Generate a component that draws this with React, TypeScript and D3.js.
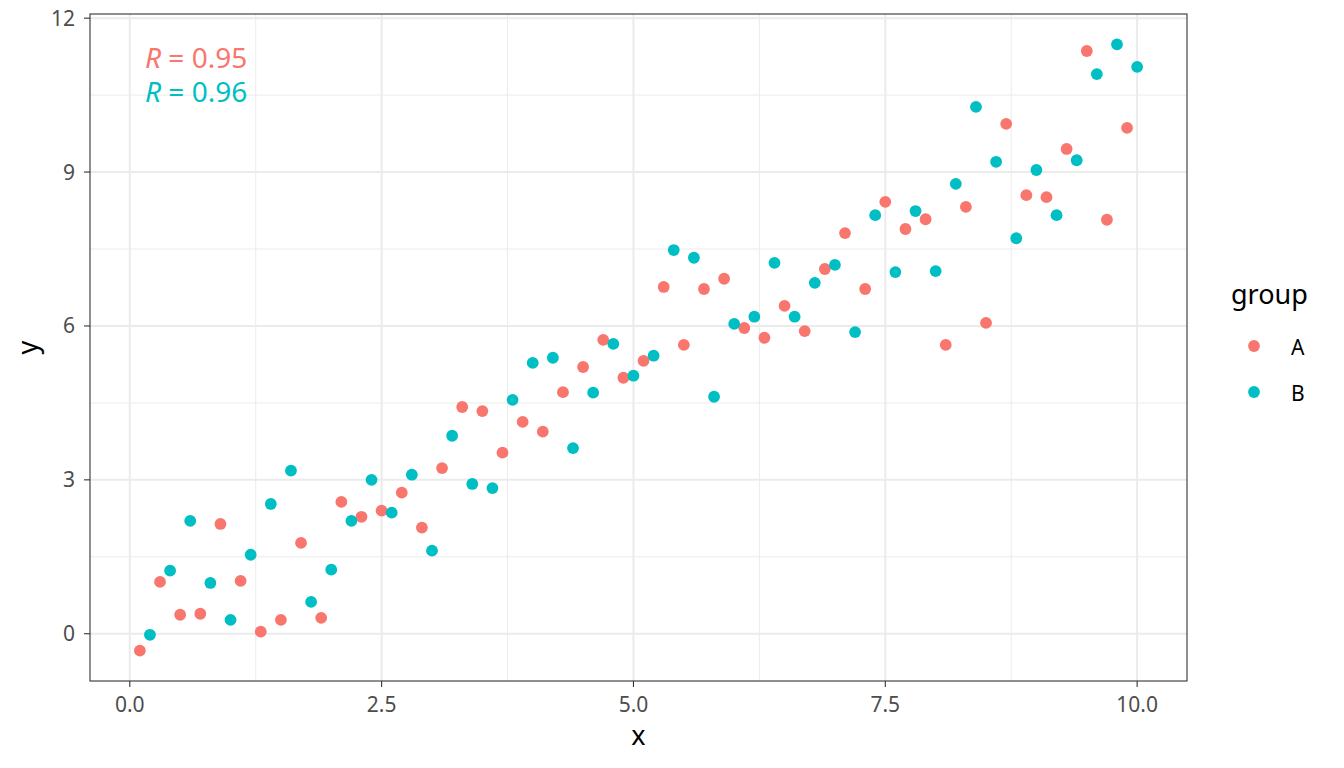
import React from "react";
import * as d3 from "d3";

const xA = [0.1,0.3,0.5,0.7,0.9,1.1,1.3,1.5,1.7,1.9,2.1,2.3,2.5,2.7,2.9,3.1,3.3,3.5,3.7,3.9,4.1,4.3,4.5,4.7,4.9,5.1,5.3,5.5,5.7,5.9,6.1,6.3,6.5,6.7,6.9,7.1,7.3,7.5,7.7,7.9,8.1,8.3,8.5,8.7,8.9,9.1,9.3,9.5,9.7,9.9];
const yA = [-0.33,1.01,0.37,0.39,2.14,1.03,0.04,0.27,1.77,0.31,2.57,2.28,2.40,2.75,2.07,3.23,4.42,4.34,3.53,4.13,3.94,4.71,5.20,5.73,4.99,5.32,6.76,5.63,6.72,6.92,5.96,5.77,6.39,5.90,7.11,7.81,6.72,8.42,7.89,8.08,5.63,8.32,6.06,9.94,8.55,8.51,9.45,11.36,8.07,9.86];
const xB = [0.2,0.4,0.6,0.8,1.0,1.2,1.4,1.6,1.8,2.0,2.2,2.4,2.6,2.8,3.0,3.2,3.4,3.6,3.8,4.0,4.2,4.4,4.6,4.8,5.0,5.2,5.4,5.6,5.8,6.0,6.2,6.4,6.6,6.8,7.0,7.2,7.4,7.6,7.8,8.0,8.2,8.4,8.6,8.8,9.0,9.2,9.4,9.6,9.8,10.0];
const yB = [-0.02,1.23,2.20,0.99,0.27,1.54,2.53,3.18,0.62,1.25,2.20,3.00,2.36,3.10,1.62,3.86,2.92,2.84,4.56,5.28,5.38,3.62,4.70,5.65,5.03,5.42,7.48,7.33,4.62,6.04,6.18,7.23,6.18,6.84,7.19,5.88,8.16,7.05,8.24,7.07,8.77,10.27,9.20,7.71,9.04,8.16,9.23,10.91,11.49,11.05];

const groups = ["A", "B"];
const colors = ["#F8766D", "#00BFC4"];
const rLabels = ["0.95", "0.96"];
const xTicks = [0, 2.5, 5, 7.5, 10];
const xTickLabels = ["0.0", "2.5", "5.0", "7.5", "10.0"];
const yTicks = [0, 3, 6, 9, 12];
const yTickLabels = ["0", "3", "6", "9", "12"];
const xMinor = [1.25, 3.75, 6.25, 8.75];
const yMinor = [1.5, 4.5, 7.5, 10.5];

const W = 1344, H = 768;
const panel = { left: 90, right: 1187, top: 14, bottom: 681 };
const font = "'Noto Sans', 'Open Sans', sans-serif";

export default function App() {
  const allX = [...xA, ...xB];
  const allY = [...yA, ...yB];
  const [x0, x1] = d3.extent(allX) as [number, number];
  const [y0, y1] = d3.extent(allY) as [number, number];
  const ex = (x1 - x0) * 0.05, ey = (y1 - y0) * 0.05;
  const xs = d3.scaleLinear().domain([x0 - ex, x1 + ex]).range([panel.left, panel.right]);
  const ys = d3.scaleLinear().domain([y0 - ey, y1 + ey]).range([panel.bottom, panel.top]);
  const series = [
    { x: xA, y: yA },
    { x: xB, y: yB },
  ];
  const grid = "#EBEBEB";
  return (
    <svg width={W} height={H} style={{ position: "absolute", left: 0, top: 0, background: "#fff" }} fontFamily={font}>
      <rect x={0} y={0} width={W} height={H} fill="#fff" />
      {xMinor.map((v) => (
        <line key={"xm" + v} x1={xs(v)} x2={xs(v)} y1={panel.top} y2={panel.bottom} stroke={grid} strokeWidth={1} />
      ))}
      {yMinor.map((v) => (
        <line key={"ym" + v} y1={ys(v)} y2={ys(v)} x1={panel.left} x2={panel.right} stroke={grid} strokeWidth={1} />
      ))}
      {xTicks.map((v) => (
        <line key={"xg" + v} x1={xs(v)} x2={xs(v)} y1={panel.top} y2={panel.bottom} stroke={grid} strokeWidth={2} />
      ))}
      {yTicks.map((v) => (
        <line key={"yg" + v} y1={ys(v)} y2={ys(v)} x1={panel.left} x2={panel.right} stroke={grid} strokeWidth={2} />
      ))}
      {series.map((s, gi) =>
        s.x.map((xv, i) => (
          <circle key={gi + "-" + i} cx={xs(xv)} cy={ys(s.y[i])} r={5.9} fill={colors[gi]} />
        ))
      )}
      {rLabels.map((r, i) => (
        <text key={"r" + i} x={panel.left + 55} y={panel.top + 54 + i * 34} fontSize={28} fill={colors[i]}>
          <tspan fontStyle="italic">R</tspan>
          <tspan> = {r}</tspan>
        </text>
      ))}
      <rect x={panel.left} y={panel.top} width={panel.right - panel.left} height={panel.bottom - panel.top} fill="none" stroke="#333" strokeWidth={1.1} />
      {xTicks.map((v, i) => (
        <g key={"xt" + v}>
          <line x1={xs(v)} x2={xs(v)} y1={panel.bottom} y2={panel.bottom + 6} stroke="#333" strokeWidth={1.1} />
          <text x={xs(v)} y={panel.bottom + 31} textAnchor="middle" fontSize={21} fill="#4D4D4D">{xTickLabels[i]}</text>
        </g>
      ))}
      {yTicks.map((v, i) => (
        <g key={"yt" + v}>
          <line x1={panel.left - 6} x2={panel.left} y1={ys(v)} y2={ys(v)} stroke="#333" strokeWidth={1.1} />
          <text x={panel.left - 15} y={ys(v) + 7.5} textAnchor="end" fontSize={21} fill="#4D4D4D">{yTickLabels[i]}</text>
        </g>
      ))}
      <text x={(panel.left + panel.right) / 2} y={745} textAnchor="middle" fontSize={27} fill="#000">x</text>
      <text transform={`translate(37,${(panel.top + panel.bottom) / 2}) rotate(-90)`} textAnchor="middle" fontSize={27} fill="#000">y</text>
      <text x={1231} y={304} fontSize={27} fill="#000">group</text>
      {groups.map((g, i) => (
        <g key={"lg" + g}>
          <circle cx={1254} cy={346 + i * 46} r={5.9} fill={colors[i]} />
          <text x={1291} y={355 + i * 46} fontSize={21} fill="#000">{g}</text>
        </g>
      ))}
    </svg>
  );
}
